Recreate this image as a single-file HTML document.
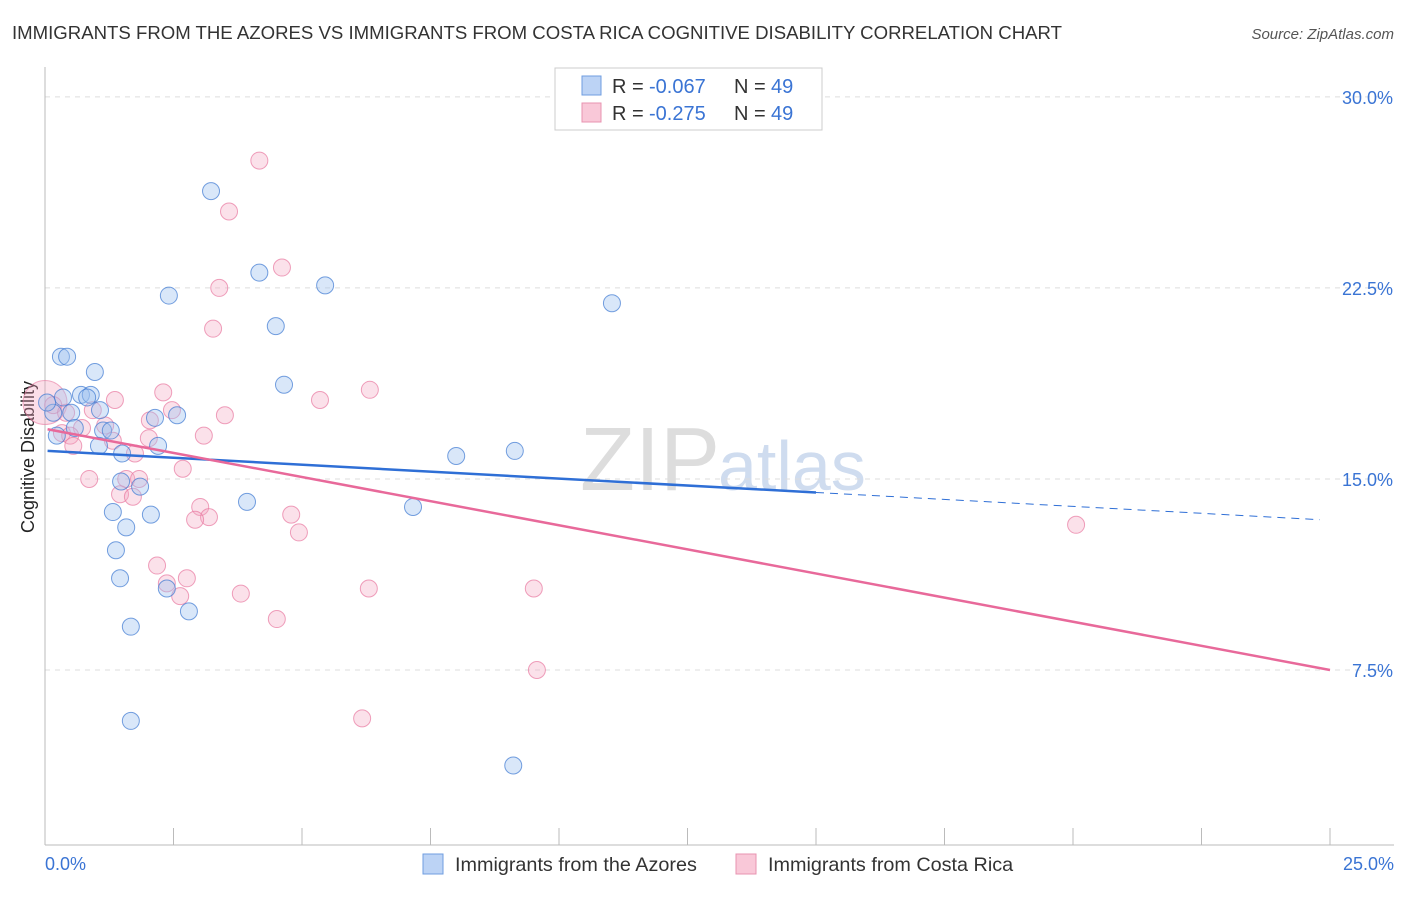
<!DOCTYPE html>
<html><head><meta charset="utf-8"><style>
body{margin:0;background:#fff;font-family:"Liberation Sans",sans-serif}
svg text{font-family:"Liberation Sans",sans-serif}
</style></head><body>
<svg id="chart" width="1406" height="892">
<text x="12" y="39" font-size="18.6" fill="#333">IMMIGRANTS FROM THE AZORES VS IMMIGRANTS FROM COSTA RICA COGNITIVE DISABILITY CORRELATION CHART</text>
<text x="1394" y="39" font-size="15" fill="#555" font-style="italic" text-anchor="end">Source: ZipAtlas.com</text>
<text x="34" y="457" font-size="18" fill="#222" text-anchor="middle" transform="rotate(-90 34 457)">Cognitive Disability</text>
<text x="720" y="490" font-size="90" fill="#ddd" text-anchor="end" font-family="Liberation Serif">ZIP</text>
<text x="718" y="490" font-size="70" fill="#cfdcef">atlas</text>
<g id="grid"></g><g id="pts"></g><g id="lines"></g>
<g>
<rect x="555" y="68" width="267" height="62" fill="#fff" stroke="#ccc"/>
<rect x="582" y="76" width="19" height="19" fill="#bcd3f5" stroke="#6f9ee0"/>
<rect x="582" y="103" width="19" height="19" fill="#f9c8d8" stroke="#e893b0"/>
<text y="93" font-size="20" fill="#333"><tspan x="612">R =</tspan><tspan x="649" fill="#3a74d4">-0.067</tspan><tspan x="734">N =</tspan><tspan x="771" fill="#3a74d4">49</tspan></text>
<text y="120" font-size="20" fill="#333"><tspan x="612">R =</tspan><tspan x="649" fill="#3a74d4">-0.275</tspan><tspan x="734">N =</tspan><tspan x="771" fill="#3a74d4">49</tspan></text>
</g>
<g>
<rect x="423" y="854" width="20" height="20" fill="#bcd3f5" stroke="#6f9ee0"/>
<text x="455" y="871" font-size="19.8" fill="#333">Immigrants from the Azores</text>
<rect x="736" y="854" width="20" height="20" fill="#f9c8d8" stroke="#e893b0"/>
<text x="768" y="871" font-size="19.8" fill="#333">Immigrants from Costa Rica</text>
</g>
<text x="45" y="870" font-size="18" fill="#3a74d4">0.0%</text>
<text x="1394" y="870" font-size="18" fill="#3a74d4" text-anchor="end">25.0%</text>
</svg>
<script>
const yTicks=[7.5,15,22.5,30];
const yTickLabels=["7.5%","15.0%","22.5%","30.0%"];
const azoresX=[3.23,4.17,5.45,2.41,11.03,4.49,0.31,0.43,0.97,4.65,0.70,0.89,0.35,0.82,1.07,2.57,0.16,0.51,2.14,1.13,0.58,0.23,1.28,1.05,2.2,8.0,9.14,1.50,1.48,1.85,3.93,7.16,1.32,2.06,1.58,1.38,1.46,2.37,2.80,1.67,1.67,9.11,0.04];
const azoresY=[26.3,23.1,22.6,22.2,21.9,21.0,19.8,19.8,19.2,18.7,18.3,18.3,18.2,18.2,17.7,17.5,17.6,17.6,17.4,16.9,17.0,16.7,16.9,16.3,16.3,15.9,16.1,16.0,14.9,14.7,14.1,13.9,13.7,13.6,13.1,12.2,11.1,10.7,9.8,9.2,5.5,3.75,18.0];
const costaX=[4.17,3.58,4.61,3.39,3.27,6.32,2.30,5.35,1.36,0.16,2.47,0.93,3.50,0.41,2.04,1.17,0.72,0.33,0.49,2.02,3.09,0.55,1.32,1.75,2.68,0.86,1.58,1.83,1.46,1.71,3.02,4.79,3.19,2.92,4.94,2.18,2.76,2.37,2.63,3.81,6.30,9.51,4.51,9.57,6.17,20.06];
const costaY=[27.5,25.5,23.3,22.5,20.9,18.5,18.4,18.1,18.1,17.9,17.7,17.7,17.5,17.6,17.3,17.1,17.0,16.8,16.7,16.6,16.7,16.3,16.5,16.0,15.4,15.0,15.0,15.0,14.4,14.3,13.9,13.6,13.5,13.4,12.9,11.6,11.1,10.9,10.4,10.5,10.7,10.7,9.5,7.5,5.6,13.2];
const blueFit=[0.05,16.1,24.8,13.4];
const pinkFit=[0.05,16.95,25,7.5];
const NS="http://www.w3.org/2000/svg";
const X=v=>45+v*51.4, Y=v=>861-v*25.47;
function mk(t,a,p){const e=document.createElementNS(NS,t);for(const k in a)e.setAttribute(k,a[k]);p.appendChild(e);return e;}
const g=document.getElementById('grid');
yTicks.forEach((t,i)=>{
 const l=mk('line',{x1:45,x2:1394,y1:Y(t),y2:Y(t),stroke:'#ddd','stroke-dasharray':'5,5'},g);
 
 
 const tx=mk('text',{x:1393,y:Y(t)+7,'font-size':18,fill:'#3a74d4','text-anchor':'end'},g);
 tx.textContent=yTickLabels[i];
 
 
});
mk('line',{x1:45,x2:45,y1:67,y2:845,stroke:'#bbb'},g);
mk('line',{x1:45,x2:1394,y1:845,y2:845,stroke:'#bbb'},g);
for(let i=1;i<=10;i++){const x=45+i*128.5;const t=mk('line',{x1:x,x2:x,y1:828,y2:845,stroke:'#bbb'},g);
 
 }
const p=document.getElementById('pts');
const big=mk('circle',{cx:X(0),cy:Y(18.0),r:22,fill:'rgba(244,160,190,0.35)',stroke:'rgba(232,120,160,0.6)'},p);


costaX.forEach((v,i)=>{const c=mk('circle',{cx:X(v),cy:Y(costaY[i]),r:8.5,fill:'rgba(244,170,196,0.35)',stroke:'rgba(232,120,160,0.7)'},p);
 
 });
azoresX.forEach((v,i)=>{const c=mk('circle',{cx:X(v),cy:Y(azoresY[i]),r:8.5,fill:'rgba(160,195,240,0.4)',stroke:'rgba(60,120,210,0.7)'},p);
 
 });
const L=document.getElementById('lines');
const by=x=>blueFit[1]+(blueFit[3]-blueFit[1])*(x-blueFit[0])/(blueFit[2]-blueFit[0]);
let a=mk('line',{x1:X(blueFit[0]),y1:Y(blueFit[1]),x2:X(15),y2:Y(by(15)),stroke:'#2f6fd6','stroke-width':2.5},L);


a=mk('line',{x1:X(15),y1:Y(by(15)),x2:X(blueFit[2]),y2:Y(blueFit[3]),stroke:'#2f6fd6','stroke-width':1,'stroke-dasharray':'8,6'},L);


a=mk('line',{x1:X(pinkFit[0]),y1:Y(pinkFit[1]),x2:X(pinkFit[2]),y2:Y(pinkFit[3]),stroke:'#e8699a','stroke-width':2.5},L);


</script>
</body></html>
